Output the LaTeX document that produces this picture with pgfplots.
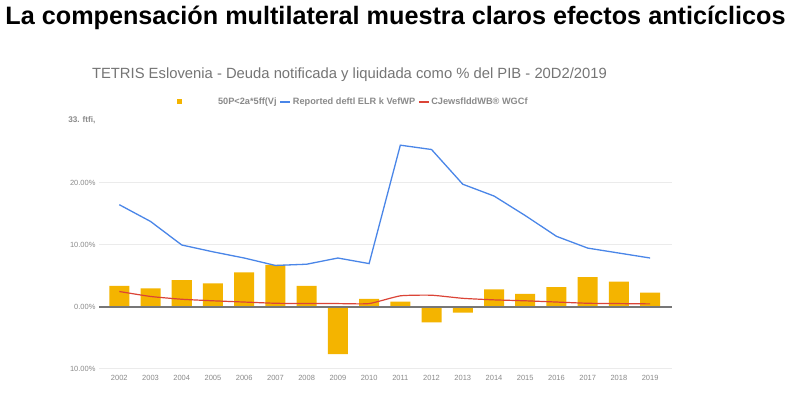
\documentclass[border=0pt]{standalone}
\usepackage{pgfplots}
\pgfplotsset{compat=1.18}
\usepackage{fontspec}
\setmainfont{Liberation Sans}
\definecolor{barY}{HTML}{F4B400}
\definecolor{lineB}{HTML}{4A86E8}
\definecolor{lineR}{HTML}{DB4437}
\definecolor{txtG}{HTML}{757575}
\definecolor{tickG}{HTML}{8A8A8A}
\definecolor{gridG}{HTML}{EBEBEB}
\definecolor{zeroG}{HTML}{777777}
\begin{document}
\begin{tikzpicture}[x=1pt,y=1pt]
\useasboundingbox[fill=white] (0,0) rectangle (793,396);
\node[font=\fontsize{25.2}{28}\selectfont\bfseries] at (395.5,378) {La compensación multilateral muestra claros efectos anticíclicos};
\node[font=\fontsize{14.8}{17}\selectfont, text=txtG] at (349.5,321) {TETRIS Eslovenia - Deuda notificada y liquidada como \% del PIB - 20D2/2019};
\begin{axis}[at={(99pt,27pt)}, anchor=south west, scale only axis, width=573pt, height=248pt,
  xmin=2001.35, xmax=2019.7, ymin=-10, ymax=30,
  axis line style={draw=none},
  major tick length=0pt,
  xtick={2002,2003,2004,2005,2006,2007,2008,2009,2010,2011,2012,2013,2014,2015,2016,2017,2018,2019},
  xticklabels={2002,2003,2004,2005,2006,2007,2008,2009,2010,2011,2012,2013,2014,2015,2016,2017,2018,2019},
  ytick={-10,0,10,20},
  yticklabels={10.00\%,0.00\%,10.00\%,20.00\%},
  extra y ticks={30},
  extra y tick labels={33. ftfi{,}},
  extra y tick style={grid=none, tick label style={font=\fontsize{8.2}{9}\selectfont\bfseries, yshift=1pt}},
  ymajorgrids,
  grid style={gridG, line width=1pt},
  tick label style={font=\fontsize{7.5}{9}\selectfont, text=tickG},
  xticklabel style={yshift=-3pt},
  /pgf/number format/assume math mode=true,
  legend style={at={(0.136,1.077)}, anchor=west, draw=none, fill=none,
    font=\fontsize{9.2}{10}\selectfont\bfseries, text=tickG, inner sep=0pt,
    /tikz/every even column/.append style={column sep=1pt}},
  legend columns=3,
  legend cell align=left,
]
\addplot[ybar, bar width=20pt, fill=barY, draw=none,
  legend image code/.code={\fill[barY] (0pt,-2.5pt) rectangle (5pt,2.5pt);}]
 coordinates {(2002,3.4) (2003,3.0) (2004,4.35) (2005,3.8) (2006,5.6) (2007,6.8) (2008,3.4) (2009,-7.6) (2010,1.3) (2011,0.85) (2012,-2.5) (2013,-0.9) (2014,2.85) (2015,2.1) (2016,3.2) (2017,4.8) (2018,4.1) (2019,2.3)};
\addlegendentry{\hspace*{34pt}50P<2a*5ff(Vj}
\addplot[forget plot, zeroG, line width=1.3pt] coordinates {(2001.35,0) (2019.7,0)};
\addplot[lineB, line width=1.3pt,
  legend image code/.code={\draw[lineB, line width=1.3pt] (0pt,0pt) -- (10pt,0pt);}]
 coordinates {(2002,16.5) (2003,13.8) (2004,10.0) (2005,8.9) (2006,7.9) (2007,6.7) (2008,6.9) (2009,7.9) (2010,7.0) (2011,26.1) (2012,25.4) (2013,19.8) (2014,17.9) (2015,14.75) (2016,11.4) (2017,9.5) (2018,8.7) (2019,7.9)};
\addlegendentry{Reported deftl ELR k VefWP}
\addplot[lineR, line width=1.2pt, smooth, tension=0.3,
  legend image code/.code={\draw[lineR, line width=1.2pt] (0pt,0pt) -- (10pt,0pt);}]
 coordinates {(2002,2.5) (2003,1.7) (2004,1.25) (2005,1.0) (2006,0.8) (2007,0.6) (2008,0.55) (2009,0.55) (2010,0.55) (2011,1.8) (2012,1.9) (2013,1.4) (2014,1.15) (2015,1.0) (2016,0.8) (2017,0.6) (2018,0.55) (2019,0.5)};
\addlegendentry{CJewsflddWB® WGCf}
\end{axis}
\end{tikzpicture}
\end{document}
